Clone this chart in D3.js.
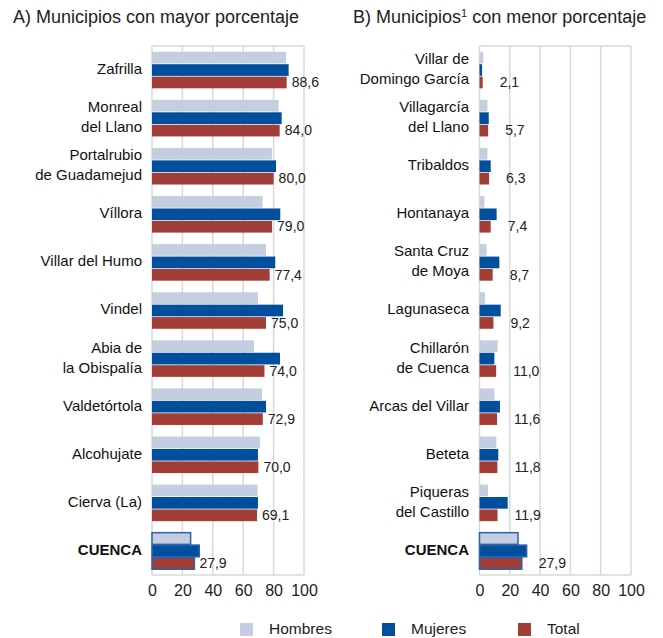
<!DOCTYPE html>
<html>
<head>
<meta charset="utf-8">
<script src="https://cdn.jsdelivr.net/npm/d3@7"></script>
<style>
  body { margin: 0; background: #fff; }
  svg { display: block; font-family: "Liberation Sans", Arial, sans-serif; }
</style>
</head>
<body>
<div id="chart"></div>
<script>
const series = ["Hombres", "Mujeres", "Total"];

// A) mayor porcentaje
const categoriesA = ["Zafrilla", "Monreal\ndel Llano", "Portalrubio\nde Guadamejud", "Víllora",
  "Villar del Humo", "Vindel", "Abia de\nla Obispalía", "Valdetórtola", "Alcohujate",
  "Cierva (La)", "CUENCA"];
const hombresA = [88.2, 83.3, 78.9, 72.8, 75.0, 69.7, 67.1, 72.4, 71.1, 69.5, 25.4];
const mujeresA = [89.9, 85.3, 81.6, 84.4, 81.1, 86.2, 84.2, 75.0, 69.7, 69.7, 31.1];
const totalA = [88.6, 84.0, 80.0, 79.0, 77.4, 75.0, 74.0, 72.9, 70.0, 69.1, 27.9];

// B) menor porcentaje
const categoriesB = ["Villar de\nDomingo García", "Villagarcía\ndel Llano", "Tribaldos", "Hontanaya",
  "Santa Cruz\nde Moya", "Lagunaseca", "Chillarón\nde Cuenca", "Arcas del Villar", "Beteta",
  "Piqueras\ndel Castillo", "CUENCA"];
const hombresB = [2.5, 5.2, 5.2, 3.2, 4.7, 3.6, 12.0, 9.8, 11.1, 5.6, 25.4];
const mujeresB = [1.7, 6.1, 7.4, 11.3, 13.1, 14.0, 9.8, 13.5, 12.4, 18.6, 31.1];
const totalB = [2.1, 5.7, 6.3, 7.4, 8.7, 9.2, 11.0, 11.6, 11.8, 11.9, 27.9];

const ticks = [0, 20, 40, 60, 80, 100];

const width = 663, height = 638;
const plotTop = 46, plotBottom = 575;
const colors = d3.scaleOrdinal().domain(series).range(["#c5cde0", "#004f9f", "#a23e37"]);
const es = d3.formatLocale({decimal: ",", thousands: ".", grouping: [3], currency: ["", " €"]});
const fmt = es.format(".1f");

const svg = d3.select("#chart")
  .append("svg")
    .attr("width", width)
    .attr("height", height);

const drawPanel = (cfg) => {
  const data = cfg.categories.map((c, i) => ({
    cat: c,
    values: [cfg.hombres[i], cfg.mujeres[i], cfg.total[i]]
  }));

  const x = d3.scaleLinear().domain([0, 100]).range(cfg.xRange);
  const y = d3.scaleBand()
    .domain(cfg.categories)
    .range([plotTop, plotBottom])
    .paddingInner(0.24)
    .paddingOuter(0.12);
  const ySub = d3.scaleBand().domain(series).range([0, y.bandwidth()]).paddingInner(0.06);

  const g = svg.append("g");

  // grid + frame
  g.selectAll(".grid")
    .data(ticks)
    .join("line")
      .attr("x1", d => x(d))
      .attr("x2", d => x(d))
      .attr("y1", plotTop)
      .attr("y2", plotBottom)
      .attr("stroke", "#d9d9d9")
      .attr("stroke-width", 1.5);
  g.append("line")
    .attr("x1", x(0)).attr("x2", x(100))
    .attr("y1", plotTop).attr("y2", plotTop)
    .attr("stroke", "#d9d9d9").attr("stroke-width", 1.5);
  g.append("line")
    .attr("x1", x(0)).attr("x2", x(100))
    .attr("y1", plotBottom).attr("y2", plotBottom)
    .attr("stroke", "#d9d9d9").attr("stroke-width", 1.5);

  // x axis labels
  const axis = g.append("g")
    .attr("transform", `translate(0, ${plotBottom})`)
    .call(d3.axisBottom(x).tickValues(ticks).tickSize(0).tickPadding(10).tickFormat(d3.format("d")));
  axis.select(".domain").remove();
  axis.selectAll("text")
    .attr("fill", "#222")
    .style("font-size", "16px")
    .style("font-family", "'Liberation Sans', Arial, sans-serif");

  const groups = g.selectAll(".grp")
    .data(data)
    .join("g")
      .attr("transform", d => `translate(0, ${y(d.cat)})`);

  groups.selectAll("rect")
    .data(d => d.values.map((v, i) => ({s: series[i], v: v, cuenca: d.cat === "CUENCA"})))
    .join("rect")
      .attr("x", x(0))
      .attr("y", d => ySub(d.s))
      .attr("width", d => x(d.v) - x(0))
      .attr("height", ySub.bandwidth())
      .attr("fill", d => colors(d.s))
      .attr("stroke", d => d.cuenca ? "#2a63aa" : "none")
      .attr("stroke-width", 1.5);

  // value labels (Total)
  groups.append("text")
    .text(d => fmt(d.values[2]))
    .attr("x", d => x(d.values[2]) + cfg.labelOffset)
    .attr("y", ySub("Total") + ySub.bandwidth() / 2 + 1)
    .attr("dominant-baseline", "middle")
    .attr("fill", "#222")
    .style("font-size", "14px");

  // category labels
  groups.each(function(d) {
    const lines = d.cat.split("\n");
    const t = d3.select(this).append("text")
      .attr("x", cfg.labelRight)
      .attr("text-anchor", "end")
      .attr("fill", "#111")
      .style("font-size", "15px")
      .style("font-weight", d.cat === "CUENCA" ? "bold" : "normal");
    lines.forEach((line, i) => {
      t.append("tspan")
        .attr("x", cfg.labelRight)
        .attr("y", y.bandwidth() / 2 + (i - (lines.length - 1) / 2) * 20)
        .attr("dominant-baseline", "middle")
        .text(line);
    });
  });
};

drawPanel({categories: categoriesA, hombres: hombresA, mujeres: mujeresA, total: totalA,
  xRange: [152, 304], labelRight: 142, labelOffset: 5});
drawPanel({categories: categoriesB, hombres: hombresB, mujeres: mujeresB, total: totalB,
  xRange: [479.5, 631], labelRight: 469, labelOffset: 17});

// titles
svg.append("text")
  .attr("x", 13).attr("y", 23)
  .attr("fill", "#222")
  .style("font-size", "18px")
  .text("A) Municipios con mayor porcentaje");
const tB = svg.append("text")
  .attr("x", 353).attr("y", 23)
  .attr("fill", "#222")
  .style("font-size", "18px");
tB.append("tspan").text("B) Municipios");
tB.append("tspan").attr("dy", -6).style("font-size", "11px").text("1");
tB.append("tspan").attr("dy", 6).text(" con menor porcentaje");

// legend
const legendX = [240, 382, 518];
const legend = svg.selectAll(".leg")
  .data(series)
  .join("g")
    .attr("transform", (d, i) => `translate(${legendX[i]}, 623)`);
legend.append("rect")
  .attr("width", 13).attr("height", 13)
  .attr("fill", d => colors(d));
legend.append("text")
  .attr("x", 29).attr("y", 11)
  .attr("fill", "#222")
  .style("font-size", "15.5px")
  .text(d => d);
</script>
</body>
</html>
